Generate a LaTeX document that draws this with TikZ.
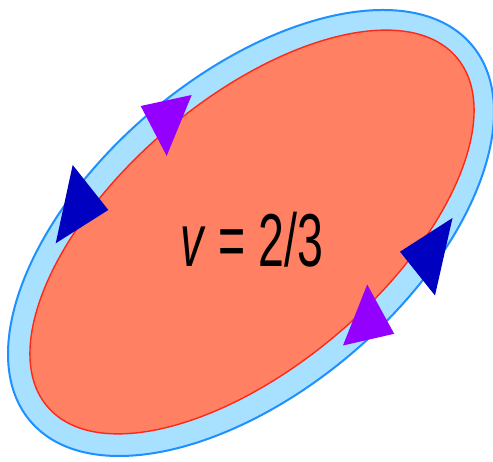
\documentclass[tikz,border=0pt]{standalone}
\usepackage{fontspec}
\setmainfont{Liberation Sans}
\definecolor{bandfill}{RGB}{168,224,255}
\definecolor{bandline}{RGB}{30,144,255}
\definecolor{corefill}{RGB}{255,128,98}
\definecolor{coreline}{RGB}{255,40,20}
\definecolor{arrpurple}{RGB}{148,0,255}
\definecolor{arrblue}{RGB}{0,0,192}
\tikzset{
  pxy/.style={x=1pt,y=1pt},
  band/.style={fill=bandfill,draw=bandline,line width=2pt},
  core/.style={fill=corefill,draw=coreline,line width=1.4pt},
  ptri/.style={fill=arrpurple,draw=none},
  btri/.style={fill=arrblue,draw=none},
}
\begin{document}
\begin{tikzpicture}[pxy]
\useasboundingbox (0,0) rectangle (493,462);
\fill[white] (0,0) rectangle (493,462);
% outer band
\draw[band] (251,229) ellipse[x radius=290, y radius=157, rotate=40.5];
% inner core
\draw[core] (252,230) ellipse[x radius=269, y radius=133, rotate=40.5];
% triangles (image y converted: 462 - y)
\fill[ptri] (140.7,356) -- (191.7,367) -- (166.7,306) -- cycle;
\fill[btri] (72.7,297) -- (108.3,252) -- (55.7,218.7) -- cycle;
\fill[btri] (452.5,244) -- (400,210.3) -- (435,166.5) -- cycle;
\fill[ptri] (367.2,177.5) -- (394.2,128.2) -- (343,116.5) -- cycle;
% label
\node[anchor=base,inner sep=0pt] (lbl) at (252,195.3)
  {\fontsize{75}{80}\selectfont\scalebox{0.62}[1]{\textit{v} = 2/3}};
\end{tikzpicture}
\end{document}
